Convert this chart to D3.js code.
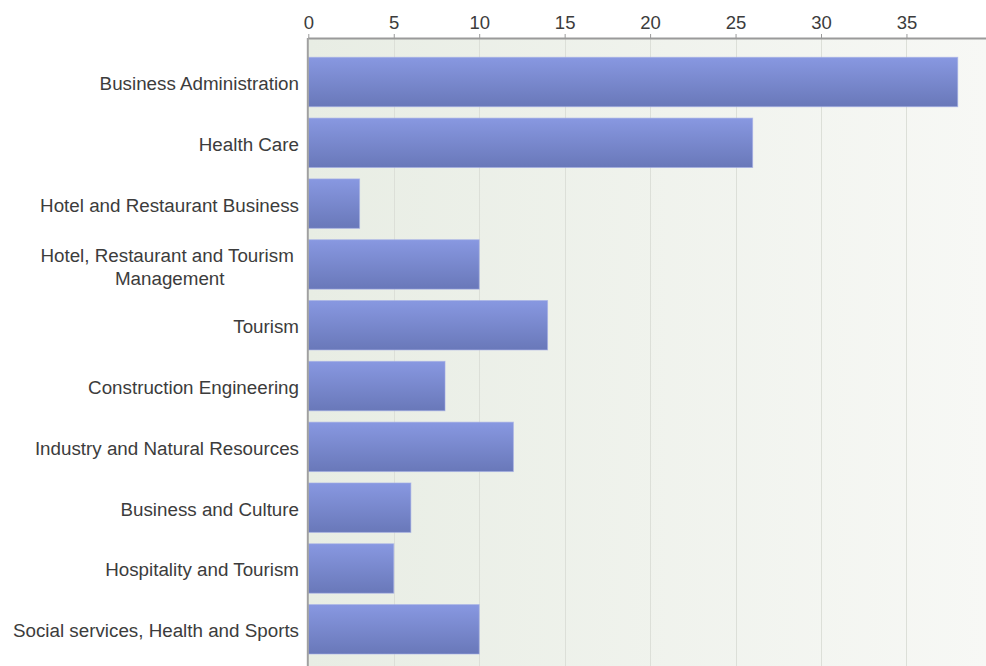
<!DOCTYPE html>
<html>
<head>
<meta charset="utf-8">
<script src="https://cdn.jsdelivr.net/npm/d3@7"></script>
<style>
  html, body { margin: 0; padding: 0; background: #ffffff; }
  svg { display: block; font-family: "Liberation Sans", Arial, sans-serif; }
</style>
</head>
<body>
<svg id="chart" width="986" height="666"></svg>
<script>
const categories = [
  "Business Administration",
  "Health Care",
  "Hotel and Restaurant Business",
  "Hotel, Restaurant and Tourism Management",
  "Tourism",
  "Construction Engineering",
  "Industry and Natural Resources",
  "Business and Culture",
  "Hospitality and Tourism",
  "Social services, Health and Sports"
];
const values = [38, 26, 3, 10, 14, 8, 12, 6, 5, 10];
const tickValues = [0, 5, 10, 15, 20, 25, 30, 35];
const labelLines = {
  "Hotel, Restaurant and Tourism Management": ["Hotel, Restaurant and Tourism ", "Management"]
};

const svg = d3.select("#chart");
const W = 986, H = 666;
const x0 = 308.3, axisY = 38;
const x = d3.scaleLinear().domain([0, 40]).range([x0, x0 + 40 * 17.09]);
const y = d3.scaleBand().domain(categories).range([57.3, 654]).paddingInner(0.1875).paddingOuter(0);

const defs = svg.append("defs");
const bg = defs.append("linearGradient").attr("id", "bg").attr("x1", 0).attr("x2", 1).attr("y1", 0).attr("y2", 0);
bg.append("stop").attr("offset", 0).attr("stop-color", "#e8ede4");
bg.append("stop").attr("offset", 1).attr("stop-color", "#f7f8f5");
const bar = defs.append("linearGradient").attr("id", "bar").attr("x1", 0).attr("x2", 0).attr("y1", 0).attr("y2", 1);
bar.append("stop").attr("offset", 0).attr("stop-color", "#8898e1");
bar.append("stop").attr("offset", 1).attr("stop-color", "#6978b9");

// plot background
svg.append("rect").attr("x", x0).attr("y", axisY).attr("width", W - x0).attr("height", H - axisY).attr("fill", "url(#bg)");

// gridlines
svg.append("g").selectAll("line").data(tickValues.slice(1)).join("line")
  .attr("x1", d => Math.round(x(d)) + 0.5).attr("x2", d => Math.round(x(d)) + 0.5)
  .attr("y1", axisY).attr("y2", H)
  .attr("stroke", "#dcdfd8").attr("stroke-width", 1);

// bars
svg.append("g").selectAll("rect").data(categories).join("rect")
  .attr("x", x(0))
  .attr("y", d => y(d))
  .attr("width", (d, i) => x(values[i]) - x(0))
  .attr("height", y.bandwidth())
  .attr("fill", "url(#bar)")
  .attr("stroke", "#a3ade6").attr("stroke-opacity", 0.6).attr("stroke-width", 1);

// top axis
const xAxis = d3.axisTop(x).tickValues(tickValues).tickSize(4).tickPadding(5).tickFormat(d3.format("d"));
const gx = svg.append("g").attr("transform", `translate(0,${axisY})`).call(xAxis);
gx.select(".domain").attr("d", `M${x0},0.5H${W}`).attr("stroke", "#9a9a9a").attr("stroke-width", 2);
gx.selectAll(".tick line").attr("stroke", "#9a9a9a");
gx.selectAll(".tick text").attr("fill", "#3c3c3c").attr("font-size", 18.5).attr("font-family", "Liberation Sans, Arial, sans-serif");

// left axis line
svg.append("line").attr("x1", x0 - 0.5).attr("x2", x0 - 0.5).attr("y1", axisY).attr("y2", H)
  .attr("stroke", "#a0a0a0").attr("stroke-width", 2);

// category labels
const fs = 18.8;
const lab = svg.append("g").attr("font-size", fs).attr("fill", "#3c3c3c");
categories.forEach(c => {
  const cy = y(c) + y.bandwidth() / 2;
  const lines = labelLines[c];
  if (!lines) {
    lab.append("text").attr("x", 299).attr("y", cy + 0.42 * fs).attr("text-anchor", "end").text(c);
  } else {
    const t = lab.append("text").attr("text-anchor", "middle").attr("xml:space", "preserve");
    const tmp = [];
    lines.forEach((l, i) => {
      tmp.push(t.append("tspan").attr("y", cy + 0.42 * fs + (i - (lines.length - 1) / 2) * 23 + 1.2).text(l));
    });
    const wmax = d3.max(tmp, s => s.node().getComputedTextLength());
    tmp.forEach(s => s.attr("x", 299 - wmax / 2));
  }
});
</script>
</body>
</html>
